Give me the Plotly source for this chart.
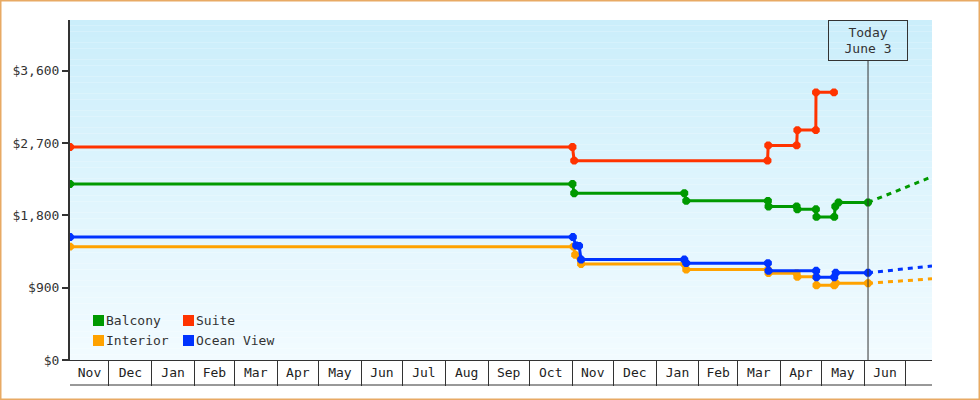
import plotly.graph_objects as go
import pandas as pd

# ---------------- data ----------------
range_start = "2019-11-02 17:00"
range_end = "2021-07-20 03:00"
today = "2021-06-03 17:00"
today_label = "Today<br>June 3"

balcony_dates = ["2019-11-02 17:00", "2020-11-01 07:00", "2020-11-02 12:00", "2021-01-21 10:00",
                 "2021-01-22 19:00", "2021-03-23 02:00", "2021-03-23 12:00", "2021-04-12 22:00",
                 "2021-04-13 10:00", "2021-04-26 22:00", "2021-04-27 07:00", "2021-05-10 05:00",
                 "2021-05-10 22:00", "2021-05-13 07:00", "2021-06-03 17:00"]
balcony_vals = [2190, 2190, 2075, 2075, 1980, 1980, 1910, 1910, 1875, 1875, 1780, 1780, 1910, 1960, 1960]

suite_dates = ["2019-11-02 17:00", "2020-11-01 07:00", "2020-11-02 12:00", "2021-03-22 19:00",
               "2021-03-23 07:00", "2021-04-12 22:00", "2021-04-13 10:00", "2021-04-26 20:00",
               "2021-04-26 23:00", "2021-05-10 00:00"]
suite_vals = [2650, 2650, 2480, 2480, 2670, 2670, 2860, 2860, 3330, 3330]

ocean_dates = ["2019-11-02 17:00", "2020-11-01 14:00", "2020-11-03 22:00", "2020-11-06 02:00",
               "2020-11-07 12:00", "2021-01-21 10:00", "2021-01-22 19:00", "2021-03-23 02:00",
               "2021-03-23 12:00", "2021-04-27 02:00", "2021-04-27 07:00", "2021-05-10 05:00",
               "2021-05-11 07:00", "2021-06-03 17:00"]
ocean_vals = [1530, 1530, 1425, 1420, 1250, 1250, 1205, 1205, 1110, 1110, 1030, 1030, 1085, 1085]

interior_dates = ["2019-11-02 17:00", "2020-11-02 00:00", "2020-11-03 05:00", "2020-11-07 12:00",
                  "2021-01-21 10:00", "2021-01-22 19:00", "2021-03-23 02:00", "2021-03-23 12:00",
                  "2021-04-12 22:00", "2021-04-13 10:00", "2021-04-27 02:00", "2021-04-27 07:00",
                  "2021-05-10 05:00", "2021-05-11 07:00", "2021-06-03 17:00"]
interior_vals = [1410, 1410, 1310, 1195, 1195, 1125, 1125, 1080, 1080, 1035, 1035, 930, 930, 955, 955]

# projections (today -> end of axis)
proj_dates = ["2021-06-03 17:00", "2021-07-20 03:00"]
balcony_proj = [1960, 2280]
ocean_proj = [1085, 1170]
interior_proj = [955, 1010]

month_labels = ["Nov", "Dec", "Jan", "Feb", "Mar", "Apr", "May", "Jun", "Jul", "Aug", "Sep", "Oct",
                "Nov", "Dec", "Jan", "Feb", "Mar", "Apr", "May", "Jun"]
y_max = 4230
y_tick_step = 900

# ---------------- styling ----------------
FONT = "DejaVu Sans Mono"
DARK = "#333333"
C_BALCONY = "#009900"
C_SUITE = "#ff3300"
C_INTERIOR = "#ffa200"
C_OCEAN = "#0033ff"

W, H = 980, 400
ML, MR, MT, MB = 70, 48, 20, 40
PW, PH = W - ML - MR, H - MT - MB

fig = go.Figure()

series = [
    ("Balcony", balcony_dates, balcony_vals, C_BALCONY),
    ("Suite", suite_dates, suite_vals, C_SUITE),
    ("Interior", interior_dates, interior_vals, C_INTERIOR),
    ("Ocean View", ocean_dates, ocean_vals, C_OCEAN),
]
projections = [
    (balcony_proj, C_BALCONY),
    (interior_proj, C_INTERIOR),
    (ocean_proj, C_OCEAN),
]

for vals, col in projections:
    fig.add_trace(go.Scatter(x=proj_dates, y=vals, mode="lines", showlegend=False,
                             line=dict(color=col, width=3, dash="5px,5px"), hoverinfo="skip"))

for name, xs, ys, col in series:
    fig.add_trace(go.Scatter(x=xs, y=ys, mode="lines+markers", name=name, showlegend=False,
                             line=dict(color=col, width=3),
                             marker=dict(symbol="octagon", size=8.5, color=col)))

# month label positions (centre of visible part of each month)
rs, re_ = pd.Timestamp(range_start), pd.Timestamp(range_end)
starts = pd.date_range("2019-11-01", periods=len(month_labels) + 1, freq="MS")
centers = []
for i in range(len(month_labels)):
    lo = max(starts[i], rs)
    hi = min(starts[i + 1], re_)
    centers.append(lo + (hi - lo) / 2)

shapes = []
annotations = []

# background gradient
n = 60
top = (203, 238, 251)
bot = (242, 251, 255)
for i in range(n):
    t = i / (n - 1)
    c = tuple(round(top[k] + (bot[k] - top[k]) * t) for k in range(3))
    shapes.append(dict(type="rect", xref="paper", yref="paper", x0=0, x1=1,
                       y0=1 - (i + 1) / n, y1=1 - i / n, layer="below",
                       line=dict(width=0), fillcolor="rgb(%d,%d,%d)" % c))

# month box bottom line
shapes.append(dict(type="line", xref="paper", yref="paper", x0=0, x1=1,
                   y0=-25 / PH, y1=-25 / PH, line=dict(color=DARK, width=1)))
# today line
shapes.append(dict(type="line", xref="x", yref="paper", x0=today, x1=today,
                   y0=0, y1=1 - 40.5 / PH, line=dict(color=DARK, width=1)))
# outer border
shapes.append(dict(type="rect", xref="paper", yref="paper",
                   x0=(0.75 - ML) / PW, x1=(W - 0.75 - ML) / PW,
                   y0=-(MB - 0.75) / PH, y1=1 + (MT - 0.75) / PH,
                   line=dict(color="#e8aa64", width=1.5), fillcolor="rgba(0,0,0,0)"))

# legend (2 x 2 grid of colour squares + names)
legend_cols = {"Balcony": 0, "Interior": 0, "Suite": 1, "Ocean View": 1}
legend_rows = {"Balcony": 0, "Suite": 0, "Interior": 1, "Ocean View": 1}
for name, _, _, col in series:
    cx = 93 + 90 * legend_cols[name]
    cy = 320.5 + 20 * legend_rows[name]
    shapes.append(dict(type="rect", xref="paper", yref="paper",
                       x0=(cx - ML) / PW, x1=(cx + 11 - ML) / PW,
                       y0=(H - MB - (cy + 5.5)) / PH, y1=(H - MB - (cy - 5.5)) / PH,
                       line=dict(width=0), fillcolor=col))
    annotations.append(dict(x=(cx + 11.5 - ML) / PW, xref="paper", xanchor="left",
                            y=(H - MB - cy) / PH, yref="paper", yanchor="middle",
                            text=name, showarrow=False, borderpad=0,
                            font=dict(family=FONT, size=13, color=DARK)))

annotations.append(dict(x=today, xref="x", y=1, yref="paper", yanchor="top", xanchor="center",
                        text=today_label, showarrow=False, align="center",
                        font=dict(family=FONT, size=13, color=DARK),
                        bordercolor=DARK, borderwidth=1, borderpad=1,
                        width=76, height=37, bgcolor="rgba(0,0,0,0)"))

fig.update_layout(
    width=W, height=H,
    margin=dict(l=ML, r=MR, t=MT, b=MB),
    paper_bgcolor="white",
    plot_bgcolor="rgba(0,0,0,0)",
    font=dict(family=FONT, size=13, color=DARK),
    shapes=shapes,
    annotations=annotations,
    hovermode=False,
    showlegend=False,
)

fig.update_xaxes(
    type="date", range=[range_start, range_end], showgrid=False, zeroline=False,
    showline=True, linecolor=DARK, linewidth=1,
    tickmode="array", tickvals=centers, ticktext=month_labels, ticks="",
    tickfont=dict(family=FONT, size=13, color="#222222"), ticklabelstandoff=0,
    minor=dict(ticks="outside", ticklen=25, tickcolor=DARK, tickwidth=1,
               tickmode="linear", tick0="2019-12-01", dtick="M1", showgrid=False),
)
fig.update_yaxes(
    range=[0, y_max], showgrid=False, zeroline=False,
    showline=True, linecolor=DARK, linewidth=2,
    tickmode="linear", tick0=0, dtick=y_tick_step, tickprefix="$", tickformat=",d",
    ticks="outside", ticklen=6, tickwidth=2, tickcolor=DARK,
    tickfont=dict(family=FONT, size=13, color=DARK),
)

fig.write_html("out.html", config={"displayModeBar": False, "staticPlot": True},
               post_script="document.body.style.margin='0';document.body.style.overflow='hidden';")
